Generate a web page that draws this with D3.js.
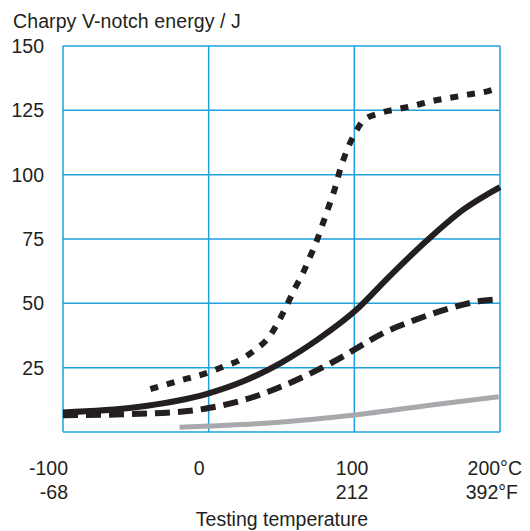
<!DOCTYPE html>
<html><head><meta charset="utf-8">
<script src="https://cdn.jsdelivr.net/npm/d3@7"></script>
<style>
html,body{margin:0;padding:0;background:#fff;}
text{font-family:"Liberation Sans",Arial,Helvetica,sans-serif;fill:#231f20;}
</style></head>
<body>
<svg id="chart" width="530" height="531"></svg>
<script>
// Data
const yTicks = [25, 50, 75, 100, 125, 150];
const xGrid = [-100, 0, 100, 200];
const xLabelsC = ["-100", "0", "100", "200°C"];
const xLabelsF = ["-68", "", "212", "392°F"];
const xLabelVals = [-100, 0, 100, 200];

const dottedT = [-40, -23, 0, 10, 21.5, 31.8, 41.6, 47.8, 53.1, 58.8, 64.6, 69.6, 74.6, 78.7, 82.8, 86.7, 90.2, 94.3, 99.8, 106.2, 118, 130, 142, 154, 167, 179, 192, 195];
const dottedV = [16.7, 19.5, 23.2, 25.4, 28, 31.9, 37, 42.8, 48.6, 55.4, 61.6, 68.1, 74.9, 81.5, 88.2, 94.7, 101.9, 108.6, 115.4, 121, 124, 125.5, 127, 128.7, 130, 131.2, 132.5, 133];

const solidT = [-100, -50, 0, 25, 50, 75, 100, 125, 150, 175, 200];
const solidV = [7.6, 9.6, 15, 20, 27, 36, 46.8, 61, 74.5, 86.5, 95.2];

const dashedT = [-100, -40, 0, 24, 47, 70, 92, 100, 120, 143, 165, 188, 199];
const dashedV = [6.5, 7.2, 9.3, 12.4, 17, 22.8, 29.3, 32, 38.5, 43.8, 48, 51, 51.6];

const grayT = [-20, 0, 39, 100, 153, 199];
const grayV = [1.8, 2.3, 3.4, 6.6, 10.5, 13.7];

const svg = d3.select("#chart");
const L = 63, R = 500, T = 46, B = 432;
const x = d3.scaleLinear().domain([-100, 200]).range([L, R]);
const y = d3.scaleLinear().domain([0, 150]).range([B, T]);

const gridColor = "#1ea0dc";
const FS = 19.5;
const g = svg.append("g");
g.selectAll("line.h").data(yTicks).join("line")
  .attr("x1", L).attr("x2", R).attr("y1", d => y(d)).attr("y2", d => y(d))
  .attr("stroke", gridColor).attr("stroke-width", 1.5);
g.selectAll("line.v").data(xGrid).join("line")
  .attr("y1", T).attr("y2", B).attr("x1", d => x(d)).attr("x2", d => x(d))
  .attr("stroke", gridColor).attr("stroke-width", 1.5);
g.append("line").attr("x1", L).attr("x2", R).attr("y1", B).attr("y2", B)
  .attr("stroke", gridColor).attr("stroke-width", 1.5);

// y labels
svg.selectAll("text.yl").data(yTicks).join("text")
  .attr("x", 44).attr("y", d => y(d)).attr("dy", "0.36em")
  .attr("text-anchor", "end").attr("font-size", FS).text(d => d);

// title
svg.append("text").attr("x", 13).attr("y", 28).attr("font-size", FS)
  .attr("letter-spacing", 0.1)
  .text("Charpy V-notch energy / J");

// x labels
const offs = [5, -4, 14, 22];
svg.selectAll("text.xc").data(xLabelVals).join("text")
  .attr("x", (d, i) => x(d) + offs[i]).attr("y", 475).attr("text-anchor", "end")
  .attr("font-size", FS).text((d, i) => xLabelsC[i]);
svg.selectAll("text.xf").data(xLabelVals).join("text")
  .attr("x", (d, i) => x(d) + offs[i] - (i === 3 ? 4 : 0)).attr("y", 499).attr("text-anchor", "end")
  .attr("font-size", FS).text((d, i) => xLabelsF[i]);
svg.append("text").attr("x", 282).attr("y", 526).attr("text-anchor", "middle")
  .attr("font-size", FS).text("Testing temperature");

const line = d3.line().curve(d3.curveMonotoneX).x(d => x(d[0])).y(d => y(d[1]));
const zip = (a, b) => a.map((v, i) => [v, b[i]]);

svg.append("path").datum(zip(grayT, grayV)).attr("d", line)
  .attr("fill", "none").attr("stroke", "#a7a9ac").attr("stroke-width", 5);
svg.append("path").datum(zip(dashedT, dashedV)).attr("d", line)
  .attr("fill", "none").attr("stroke", "#231f20").attr("stroke-width", 6)
  .attr("stroke-dasharray", "15 8");
svg.append("path").datum(zip(solidT, solidV)).attr("d", line)
  .attr("fill", "none").attr("stroke", "#231f20").attr("stroke-width", 6);
svg.append("path").datum(zip(dottedT, dottedV)).attr("d", line)
  .attr("fill", "none").attr("stroke", "#231f20").attr("stroke-width", 6)
  .attr("stroke-dasharray", "8 9");
</script>
</body></html>
